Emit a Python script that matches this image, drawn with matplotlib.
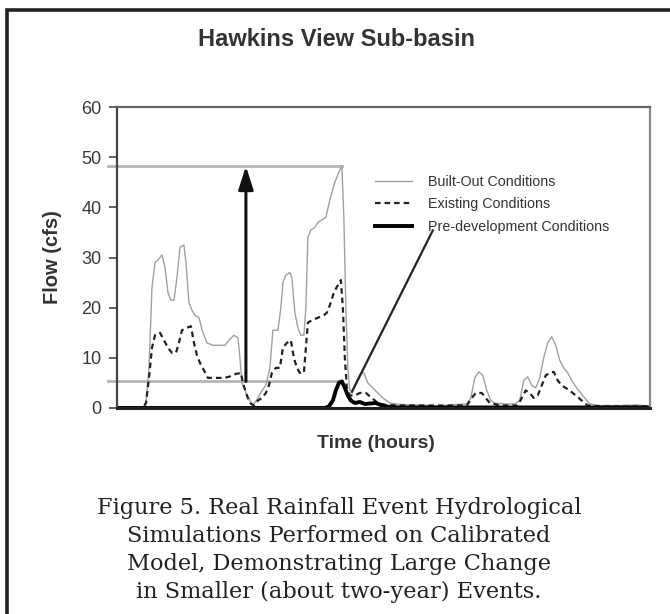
import matplotlib
matplotlib.use("Agg")
import matplotlib.pyplot as plt
from matplotlib.lines import Line2D

# ---------------- data ----------------
title = "Hawkins View Sub-basin"
ylabel = "Flow (cfs)"
xlabel = "Time (hours)"
series_names = ["Built-Out Conditions", "Existing Conditions", "Pre-development Conditions"]
y_ticks = [0, 10, 20, 30, 40, 50, 60]
caption = ("Figure 5. Real Rainfall Event Hydrological\n"
           "Simulations Performed on Calibrated\n"
           "Model, Demonstrating Large Change\n"
           "in Smaller (about two-year) Events.")

built_t = [0, 7.8, 8.7, 9.6, 10.5, 11.4, 12.3, 13.5, 14.4, 15.3, 16.2, 17.1, 18.0, 18.9, 20.1,
           20.7, 21.6, 22.5, 23.4, 24.6, 25.8, 27.0, 28.8, 32.4, 33.6, 35.1, 36.3, 36.9, 37.5,
           38.7, 39.9, 40.8, 42.3, 43.5, 44.7, 45.9, 46.8, 48.3, 49.2, 49.8, 50.7, 51.9, 52.5,
           53.4, 54.3, 55.2, 56.1, 56.7, 57.3, 58.2, 59.4, 60.3, 61.5, 62.7, 63.9, 65.4, 66.6,
           67.5, 68.1, 68.7, 69.3, 69.9, 70.8, 72.0, 73.2, 74.1, 75.3, 76.8, 78.3, 79.8, 81.9,
           84.9, 90.9, 96.9, 101.4, 105.0, 106.2, 107.4, 108.6, 109.8, 111.0, 112.2, 113.4,
           116.4, 119.4, 120.9, 122.1, 123.3, 124.5, 125.7, 126.9, 128.1, 129.3, 130.5, 131.7,
           132.9, 134.1, 135.3, 136.5, 138.0, 139.8, 141.9, 144.9, 150.9, 156.9, 159.3]
built_q = [0, 0, 1, 8, 24, 29, 29.5, 30.5, 28, 23, 21.5, 21.5, 26, 32, 32.5,
           29, 21, 19.5, 18.5, 18, 15, 13, 12.5, 12.5, 13.5, 14.5, 14, 10, 5,
           3, 1.5, 0.5, 2, 3.5, 4.5, 8, 15.5, 15.5, 20, 25, 26.5, 27, 26,
           19, 16, 14.5, 14.5, 20, 34, 35.5, 36, 37, 37.5, 38, 41.5, 45, 47,
           48.2, 38, 20, 8, 3.5, 3.5, 5.5, 7, 7, 5, 4, 3, 2, 1,
           0.7, 0.6, 0.4, 0.7, 0.8, 2, 6, 7.2, 6.5, 3.5, 1.5, 1,
           0.8, 0.8, 1.5, 5.5, 6.2, 4.5, 4, 6, 10, 13, 14.2, 12.5,
           9.5, 8, 7, 5.5, 4, 2.5, 0.8, 0.5, 0.5, 0.6, 0.3]

exist_t = [0, 7.8, 8.7, 9.6, 10.5, 11.4, 12.9, 14.1, 15.3, 16.5, 17.7, 18.6, 19.5, 21.0, 22.2,
           23.1, 24.0, 24.9, 26.1, 27.3, 32.4, 33.9, 35.7, 37.2, 37.8, 39.0, 39.9, 41.1, 42.3,
           43.5, 44.7, 45.6, 46.5, 47.7, 48.9, 49.8, 51.0, 52.2, 53.1, 54.0, 54.9, 56.1, 56.7,
           57.3, 58.5, 60.3, 62.1, 63.0, 63.9, 65.1, 66.3, 67.2, 67.8, 68.4, 69.0, 69.9, 71.4,
           72.9, 74.7, 76.5, 78.3, 80.7, 84.9, 105.0, 106.5, 107.7, 109.5, 110.7, 111.9, 114.9,
           120.3, 121.5, 122.7, 123.9, 125.1, 126.3, 127.5, 128.7, 129.9, 131.1, 132.3, 133.5,
           134.7, 135.9, 137.7, 139.5, 141.3, 144.9, 159.3]
exist_q = [0, 0, 1, 6, 12, 14.5, 15, 13.5, 12, 11, 11, 13, 15.5, 16, 16.3,
           13, 10.5, 9, 7.5, 6, 6, 6.3, 6.8, 7, 5, 2.5, 1, 0.5, 1.5,
           2, 3, 4.5, 7, 8, 8, 12, 13, 13.5, 10, 8, 7, 7, 12,
           17, 17.5, 18, 18.5, 19, 20.5, 23, 24.5, 25.5, 20, 10, 4, 2.5, 2.5,
           3, 3, 2, 1, 0.6, 0.5, 0.5, 2, 3, 3, 2, 1, 0.5,
           0.5, 2, 3.5, 3, 2, 2.5, 4.5, 6.5, 7, 7.2, 5.5, 4.5,
           4, 3.5, 2.5, 1.5, 0.5, 0.3, 0.3]

pre_t = [0, 62.4, 63.6, 64.8, 65.7, 66.6, 67.5, 68.4, 69.3, 70.2, 71.4, 72.9, 74.4, 75.9,
         77.7, 79.5, 81.9, 84.9, 159.3]
pre_q = [0, 0, 0.3, 1.5, 3.5, 5, 5.3, 4, 2.5, 1.5, 1, 1.2, 0.8, 0.9,
         1.0, 0.5, 0.2, 0.1, 0.1]

# annotation anchors (data units)
peak_t, peak_built, peak_pre = 67.5, 48.2, 5.3
arrow_t = 38.7
pointer_from = (94.8, 35.4)
pointer_to = (70.5, 3.2)

# ---------------- figure ----------------
plt.rcParams['font.family'] = ['Liberation Sans', 'DejaVu Sans']
fig = plt.figure(figsize=(6.7, 6.14), dpi=100)
fig.patch.set_facecolor('white')

# outer frame (left & top)
fig.add_artist(Line2D([7/670, 7/670, 1.0], [0.0, 1 - 10/614, 1 - 10/614],
                      transform=fig.transFigure, color='#222222', lw=2.6,
                      solid_joinstyle='miter'))

ax = fig.add_axes([117/670, 1 - 408/614, (650-117)/670, (408-107)/614])
ax.set_xlim(0, 160)
ax.set_ylim(0, 60)

# reference lines
ax.plot([-0.017, 0], [peak_built, peak_built], transform=ax.get_yaxis_transform(),
        color='#b5b5b5', lw=2, clip_on=False)
ax.plot([0, peak_t], [peak_built, peak_built], color='#b5b5b5', lw=2, clip_on=False)
ax.plot([-0.017, 0], [peak_pre, peak_pre], transform=ax.get_yaxis_transform(),
        color='#b5b5b5', lw=2, clip_on=False)
ax.plot([0, peak_t], [peak_pre, peak_pre], color='#b5b5b5', lw=2, clip_on=False)

l1, = ax.plot(built_t, built_q, color='#a0a0a0', lw=1.0)
l2, = ax.plot(exist_t, exist_q, color='#222222', lw=1.6, dashes=(2.5, 1.8))
l3, = ax.plot(pre_t, pre_q, color='black', lw=2.8)

# arrow
ax.annotate('', xy=(arrow_t, peak_built), xytext=(arrow_t, peak_pre),
            arrowprops=dict(arrowstyle='-|>,head_length=1.4,head_width=0.45',
                            color='#111111', lw=2.2, shrinkA=0, shrinkB=0))
# pointer line
ax.plot([pointer_from[0], pointer_to[0]], [pointer_from[1], pointer_to[1]],
        color='#222222', lw=1.6)

# spines / ticks
ax.spines['left'].set_color('#444444'); ax.spines['left'].set_linewidth(1.6)
ax.spines['top'].set_color('#666666'); ax.spines['top'].set_linewidth(1.6)
ax.spines['right'].set_color('#8a8a8a'); ax.spines['right'].set_linewidth(1.6)
ax.spines['bottom'].set_color('#222222'); ax.spines['bottom'].set_linewidth(2.2)
ax.set_xticks([])
ax.set_yticks(y_ticks)
ax.tick_params(axis='y', direction='out', length=6, width=1.2, color='#444444',
               labelsize=13, labelcolor='#3a3a3a', pad=5)

ax.set_ylabel(ylabel, fontsize=14.5, fontweight='bold', color='#333333')
ax.yaxis.set_label_coords(-(117-62)/533, 0.5)
ax.set_xlabel(xlabel, fontsize=14, fontweight='bold', color='#333333')
ax.xaxis.set_label_coords((376-117)/533, -(435-408)/301)

leg = ax.legend([l1, l2, l3], series_names, loc='upper left',
                bbox_to_anchor=((375-117)/533, (408-175)/301), frameon=False,
                fontsize=10.25, handlelength=2.6, handletextpad=1.1, labelspacing=0.58,
                borderpad=0, borderaxespad=0)
for t in leg.get_texts():
    t.set_color('#333333')

fig.text(337/670, 1 - 40/614, title, ha='center', va='center', fontsize=17,
         fontweight='bold', color='#333333')
fig.text(339/670, 1 - 550/614, caption, ha='center', va='center', fontsize=16.2,
         family='DejaVu Serif', color='#222222', linespacing=1.35)

fig.savefig('out.png', dpi=100, facecolor='white')
